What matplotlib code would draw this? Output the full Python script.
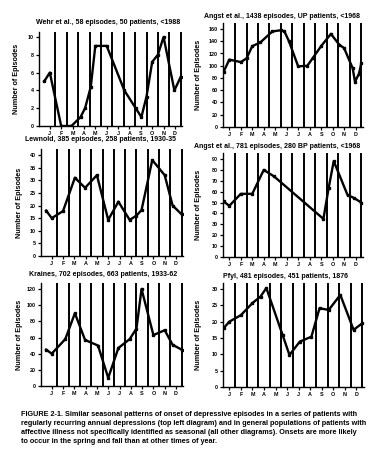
import matplotlib
matplotlib.use("Agg")
import matplotlib.pyplot as plt

plt.rcParams['font.family'] = ['Liberation Sans', 'DejaVu Sans']
plt.rcParams['font.weight'] = 'bold'

months = ['J', 'F', 'M', 'A', 'M', 'J', 'J', 'A', 'S', 'O', 'N', 'D']

# values, x in months from Jan 1
wehr_x = [0, 0.5, 1.5, 2.4, 3.2, 3.6, 4.1, 4.5, 5.5, 7.05, 8.05, 8.55, 9.0, 9.5, 10.0, 10.5, 11.45, 12.0]
wehr_y = [5, 6, 0, 0, 1, 2, 4.4, 9, 9, 4, 2, 1, 3.3, 7.2, 8, 10, 4, 5.5]

angst_up_x = [0, 0.5, 1.5, 2.0, 2.5, 3.2, 4.25, 5.0, 5.3, 5.7, 6.5, 7.3, 7.75, 8.5, 9.35, 10.1, 10.5, 11.25, 11.45, 11.8, 12.0]
angst_up_y = [90, 110, 106, 112, 132, 138, 156, 158, 156, 140, 99, 100, 112, 132, 152, 134, 129, 96, 74, 87, 104]

lewnold_x = [0, 0.5, 1.5, 2.55, 3.45, 4.5, 5.5, 6.4, 7.4, 8.0, 8.45, 9.4, 10.5, 11.2, 12.0]
lewnold_y = [18, 15, 17.8, 31, 27, 32, 14.3, 21.5, 14.3, 16, 18.2, 38, 32, 20, 16.5]

angst_bp_x = [0, 0.5, 1.5, 2.5, 3.5, 4.4, 8.7, 9.15, 9.6, 10.8, 11.4, 12.0]
angst_bp_y = [51, 47, 58, 58, 80, 74, 35, 63, 88, 57, 54, 50]

kraines_x = [0, 0.5, 1.7, 2.55, 3.45, 4.6, 5.5, 6.4, 7.4, 8.0, 8.45, 9.5, 10.5, 11.2, 12.0]
kraines_y = [45, 40, 58, 90, 57, 50, 10, 47, 58, 71, 120, 63, 69, 51, 45]

pfyl_x = [0, 0.5, 1.5, 2.5, 3.2, 3.7, 5.1, 5.7, 6.6, 7.6, 8.3, 9.1, 10.1, 11.25, 12.0]
pfyl_y = [18, 20, 22, 25.7, 27.7, 30.3, 16, 9.8, 13.9, 15.4, 24.1, 23.6, 28.2, 17.5, 19.5]

titles = ['Wehr et al., 58 episodes, 50 patients, <1988',
          'Angst et al., 1438 episodes, UP patients, <1968',
          'Lewnold, 385 episodes, 258 patients, 1930-35',
          'Angst et al., 781 episodes, 280 BP patients, <1968',
          'Kraines, 702 episodes, 663 patients, 1933-62',
          'Pfyl, 481 episodes, 451 patients, 1876']
y_ticks = [list(range(0, 11, 2)), list(range(0, 161, 20)), list(range(0, 41, 5)),
           list(range(0, 91, 10)), list(range(0, 121, 20)), list(range(0, 31, 5))]
series = [(wehr_x, wehr_y), (angst_up_x, angst_up_y), (lewnold_x, lewnold_y),
          (angst_bp_x, angst_bp_y), (kraines_x, kraines_y), (pfyl_x, pfyl_y)]

caption = [
    "FIGURE 2-1. Similar seasonal patterns of onset of depressive episodes in a series of patients with",
    "regularly recurring annual depressions (top left diagram) and in general populations of patients with",
    "affective illness not specifically identified as seasonal (all other diagrams). Onsets are more likely",
    "to occur in the spring and fall than at other times of year.",
]

W, H = 384, 461
fig = plt.figure(figsize=(W / 100, H / 100), dpi=100)
fig.patch.set_facecolor('white')

# panel boxes in pixels: left, right, zero line, top tick
boxes = [(39, 182, 126, 37), (223, 363, 127, 29),
         (41, 183, 256, 155), (223, 363, 257, 159),
         (41, 183, 386, 289), (223, 364, 387, 289)]
title_x = [0.48, 0.42, 0.42, 0.39, 0.44, 0.44]

for i, ((x, y), (l, r, y0, yt)) in enumerate(zip(series, boxes)):
    top = y_ticks[i][-1]
    extra = 1.06
    h_px = (y0 - yt) * extra
    ax = fig.add_axes([l / W, (H - y0) / H, (r - l) / W, h_px / H])
    ax.set_ylim(0, top * extra)
    if i % 2 == 0:
        ax.set_xlim(-0.45, 12.12)
    else:
        ax.set_xlim(-0.05, 12.15)
    for m in range(1, 13):
        ax.axvline(m, color='black', lw=1.4)
    ax.plot(x, y, color='black', lw=1.7, marker='s', ms=2)
    for s in ['top', 'right']:
        ax.spines[s].set_visible(False)
    ax.spines['left'].set_linewidth(1.0)
    ax.spines['bottom'].set_linewidth(1.0)
    ax.set_yticks(y_ticks[i])
    ax.set_xticks([m + 0.5 for m in range(12)])
    ax.set_xticklabels(months)
    ax.tick_params(axis='both', labelsize=3.9, length=2, width=0.9, pad=1.5)
    t = ax.set_title(titles[i], fontsize=5.0, fontweight='bold', pad=5.5 if i % 2 == 0 else 3.5)
    t.set_x(title_x[i])
    ax.set_ylabel('Number of Episodes', fontsize=5.2, fontweight='bold')
    ax.yaxis.set_label_coords(-0.13 if i % 2 == 0 else -0.15, 0.5)

for k, line in enumerate(caption):
    fig.text(21 / W, 1 - (414 + 9.1 * k) / H, line, fontsize=5.2, fontweight='bold',
             va='center', ha='left')

fig.savefig('out.png', dpi=100, facecolor='white')
